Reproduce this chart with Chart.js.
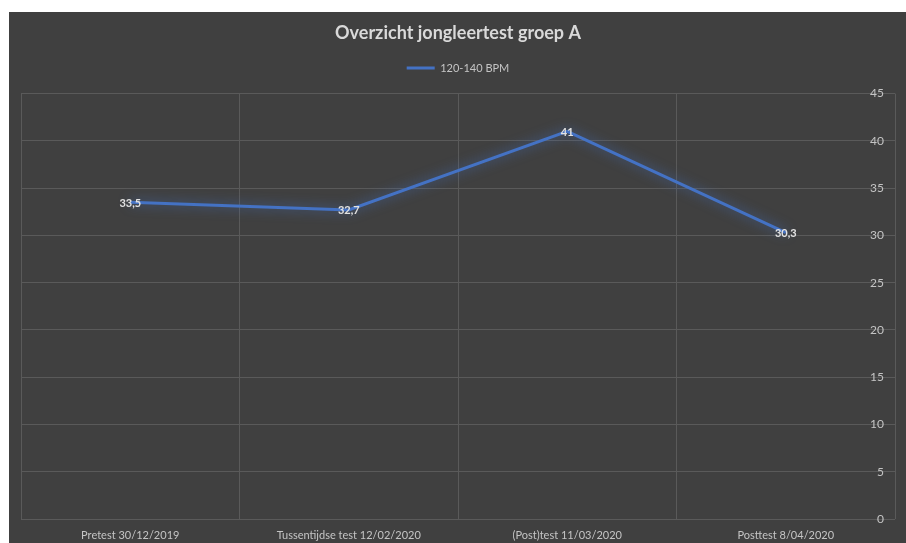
<!DOCTYPE html>
<html>
<head>
<meta charset="utf-8">
<script src="https://cdn.jsdelivr.net/npm/chart.js@4"></script>
<style>
  html, body { margin: 0; padding: 0; background: #ffffff; }
  #kader { position: absolute; left: 9px; top: 12px; width: 897px; height: 531px; background: #404040; }
</style>
</head>
<body>
<div id="kader"><canvas id="jongleerGrafiek"></canvas></div>
<script>
// testmomenten en gemiddelde scores
const momenten = ["Pretest 30/12/2019", "Tussentijdse test 12/02/2020", "(Post)test 11/03/2020", "Posttest 8/04/2020"];
const scores = [33.5, 32.7, 41, 30.3];
const reeksNaam = "120-140 BPM";
const titel = "Overzicht jongleertest groep A";

const lijnKleur = "#4472c4";
const tekstKleur = "#d9d9d9";
const asKleur = "#c4c4c4";
const rasterKleur = "#5a5a5a";
const lettertype = "Lato, 'Open Sans', sans-serif";

// zachte gloed rond de lijn
const gloedPlugin = {
    id: "gloed",
    beforeDatasetDraw(chart) {
        const ctx = chart.ctx;
        ctx.save();
        ctx.shadowColor = "rgba(68, 114, 196, 0.8)";
        ctx.shadowBlur = 12;
    },
    afterDatasetDraw(chart) {
        chart.ctx.restore();
    }
};

// waarden bij de punten, met komma als decimaalteken
const waardePlugin = {
    id: "waarden",
    afterDatasetsDraw(chart) {
        const ctx = chart.ctx;
        const meta = chart.getDatasetMeta(0);
        ctx.save();
        ctx.font = "bold 11px " + lettertype;
        ctx.fillStyle = "#e2e2e2";
        ctx.textAlign = "center";
        ctx.textBaseline = "middle";
        meta.data.forEach((punt, i) => {
            const tekst = String(scores[i]).replace(".", ",");
            ctx.fillText(tekst, punt.x, punt.y + 1);
        });
        ctx.restore();
    }
};

new Chart(document.getElementById("jongleerGrafiek"), {
    type: "line",
    data: {
        labels: momenten,
        datasets: [{
            label: reeksNaam,
            data: scores,
            xAxisID: "x",
            yAxisID: "y",
            borderColor: lijnKleur,
            backgroundColor: lijnKleur,
            borderWidth: 3,
            pointRadius: 0,
            tension: 0
        }]
    },
    options: {
        responsive: true,
        maintainAspectRatio: false,
        animation: false,
        layout: { padding: { left: 12, right: 11, top: 0, bottom: 0 } },
        plugins: {
            tooltip: { enabled: false },
            title: {
                display: true,
                text: titel,
                color: tekstKleur,
                font: { family: lettertype, size: 18, weight: "bold" },
                padding: { top: 10, bottom: 9 }
            },
            legend: {
                display: true,
                labels: {
                    color: asKleur,
                    font: { family: lettertype, size: 11 },
                    usePointStyle: true,
                    pointStyle: "line",
                    pointStyleWidth: 28,
                    boxHeight: 10,
                    padding: 10
                }
            }
        },
        scales: {
            x: {
                offset: true,
                grid: { color: rasterKleur, offset: true, drawTicks: false },
                border: { display: false },
                ticks: { color: asKleur, font: { family: lettertype, size: 11 }, padding: 10, maxRotation: 0 },
                afterFit(scale) { scale.height = 24; }
            },
            // lege strook tussen legenda en tekengebied
            ruimte: {
                type: "category",
                position: "top",
                labels: momenten,
                grid: { display: false },
                border: { display: false },
                ticks: { display: false },
                afterFit(scale) { scale.height = 10; }
            },
            y: {
                position: "right",
                min: 0,
                max: 45,
                grid: { color: rasterKleur, drawTicks: false },
                border: { display: false },
                ticks: { stepSize: 5, mirror: true, padding: -11, color: asKleur, font: { family: lettertype, size: 12 } },
                afterFit(scale) { scale.width = 0; }
            }
        }
    },
    plugins: [gloedPlugin, waardePlugin]
});
</script>
</body>
</html>
